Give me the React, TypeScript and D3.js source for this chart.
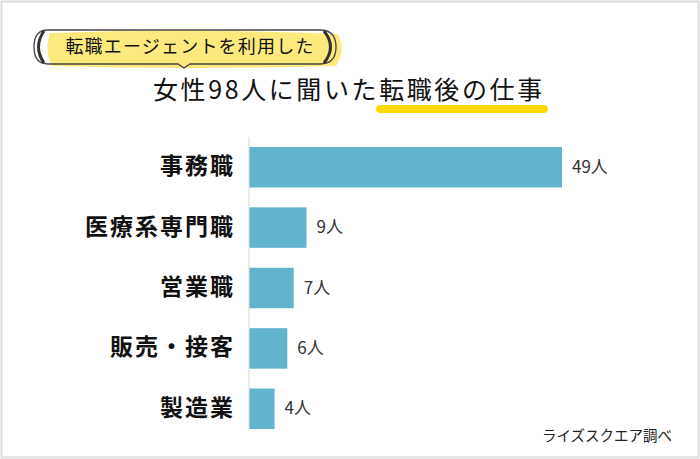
import React from "react";
import * as d3 from "d3";

const categories = ["事務職", "医療系専門職", "営業職", "販売・接客", "製造業"];
const values = [49, 9, 7, 6, 4];
const unit = "人";
const subtitle = "転職エージェントを利用した";
const titleMain = "女性98人に聞いた";
const titleHighlight = "転職後の仕事";
const source = "ライズスクエア調べ";

const W = 700;
const H = 459;
const FONT = "'Noto Sans CJK JP', 'Noto Sans', sans-serif";

export default function App() {
  const x = d3.scaleLinear().domain([0, 49]).range([249, 562]);
  const y = d3
    .scaleBand<string>()
    .domain(categories)
    .range([137, 439])
    .paddingInner(0.33)
    .paddingOuter(0.165);

  return (
    <svg
      width={W}
      height={H}
      style={{ position: "absolute", left: 0, top: 0, background: "#fff" }}
      fontFamily={FONT}
    >
      <rect x={1.5} y={1.5} width={W - 3} height={H - 3} fill="#fff" stroke="#dcdcdc" strokeWidth={2} />

      {/* subtitle bubble */}
      <path d="M50,33 Q190,28 338,34 Q346,50 336,66 Q190,70 52,66 Q44,50 50,33 Z" fill="#fde97c" />
      <path
        d="M48,30 L320,30 Q336,30 336,47 Q336,64 320,64 L190,64 L184,68 L178,64 L48,64 Q34,64 34,47 Q34,30 48,30 Z"
        fill="none"
        stroke="#444"
        strokeWidth={1.3}
      />
      <path d="M44,31 Q33,47 44,63" fill="none" stroke="#333" strokeWidth={3} />
      <path d="M324,31 Q337,47 324,63" fill="none" stroke="#333" strokeWidth={3} />
      <text x={190} y={52.5} textAnchor="middle" fontSize={18} letterSpacing={1.2} fill="#111">
        {subtitle}
      </text>

      {/* title */}
      <line x1={380} x2={544} y1={109} y2={109} stroke="#ffd900" strokeWidth={8} strokeLinecap="round" />
      <text x={153} y={99} fontSize={25} letterSpacing={2.6} fill="#111">
        {titleMain + titleHighlight}
      </text>

      {/* bars */}
      {categories.map((c, i) => (
        <g key={c}>
          <rect
            x={x(0)}
            y={y(c)!}
            width={x(values[i]) - x(0)}
            height={y.bandwidth()}
            fill="#62b4cc"
          />
          <text
            x={x(values[i]) + 10}
            y={y(c)! + y.bandwidth() / 2 - 2}
            dominantBaseline="central"
            fontSize={17}
            fill="#333"
          >
            {values[i] + unit}
          </text>
          <text
            x={235}
            y={y(c)! + y.bandwidth() / 2 - 3}
            dominantBaseline="central"
            textAnchor="end"
            fontSize={23}
            letterSpacing={2}
            fontWeight="bold"
            fill="#111"
          >
            {c}
          </text>
        </g>
      ))}
      <line x1={x(0)} x2={x(0)} y1={137} y2={431} stroke="#d9d9d9" strokeWidth={1} />

      <text x={672} y={441} textAnchor="end" fontSize={14.5} fill="#222">
        {source}
      </text>
    </svg>
  );
}
